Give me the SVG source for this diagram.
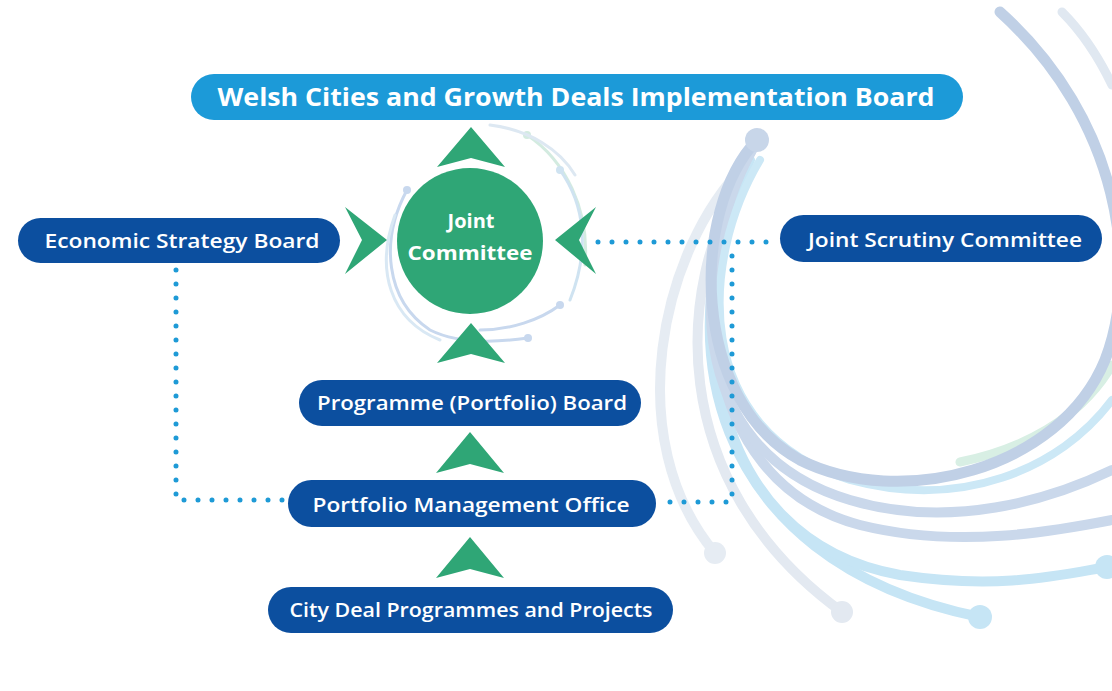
<svg xmlns="http://www.w3.org/2000/svg" width="1112" height="691" viewBox="0 0 1112 691">
<defs>
<style>
.pill{fill:#0c4f9f}
.top{fill:#1c9ad8}
.lbl{font-family:"Open Sans","Liberation Sans",sans-serif;font-weight:600;fill:#ffffff;text-anchor:middle}
.bold{font-weight:700}
.chev{fill:#2fa676}
.dots{fill:none;stroke:#1e9ad6;stroke-width:5;stroke-linecap:round;stroke-dasharray:0 14}
.arc{fill:none;stroke-linecap:round}
.sw{fill:none;stroke-width:3;stroke-linecap:round}
</style>
</defs>
<rect x="0" y="0" width="1112" height="691" fill="#ffffff"/>
<g id="decoration">
<path class="arc" d="M745,165 C660,250 620,440 715,553" stroke="#e6ecf3" stroke-width="10"/>
<circle cx="715" cy="553" r="11" fill="#e6ecf3"/>
<path class="arc" d="M740,185 C680,280 660,480 842,612" stroke="#e3e9f1" stroke-width="10"/>
<circle cx="842" cy="612" r="11" fill="#e3e9f1"/>
<path class="arc" d="M745,175 C670,330 700,560 980,617" stroke="#c6e5f5" stroke-width="10"/>
<circle cx="980" cy="617" r="12" fill="#c6e5f5"/>
<path class="arc" d="M750,160 C680,300 700,540 900,575 C1000,590 1060,575 1107,567" stroke="#c6e5f5" stroke-width="10"/>
<circle cx="1107" cy="567" r="12" fill="#c6e5f5"/>
<path class="arc" d="M752,150 C690,260 690,480 860,525 C960,550 1060,530 1112,520" stroke="#cad8eb" stroke-width="10"/>
<path class="arc" d="M752,150 C690,260 680,450 850,500 C950,530 1050,500 1112,470" stroke="#cad8eb" stroke-width="10"/>
<path class="arc" d="M760,160 C700,260 690,430 850,480 C960,510 1060,470 1112,400" stroke="#cce8f6" stroke-width="8"/>
<path class="arc" d="M1112,365 C1080,420 1020,450 960,462" stroke="#d8efe4" stroke-width="9"/>
<path class="arc" d="M757,140 C690,210 690,400 800,460 C900,510 1060,470 1105,360 C1140,270 1120,120 1000,12" stroke="#c0d0e6" stroke-width="11"/>
<circle cx="757" cy="140" r="12" fill="#c8d6e9"/>
<path class="arc" d="M1062,12 C1085,35 1100,60 1112,85" stroke="#e0e8f1" stroke-width="9"/>
</g>
<g id="swirl">
<path class="sw" d="M527,135 C565,160 590,210 585,265" stroke="#d3ebe0"/>
<circle cx="527" cy="135" r="4" fill="#d3ebe0"/>
<path class="sw" d="M560,170 C585,205 590,250 570,300" stroke="#cfe3f1"/>
<circle cx="560" cy="170" r="4" fill="#cfe3f1"/>
<path class="sw" d="M407,190 C380,240 385,300 430,330 C460,345 500,342 528,338" stroke="#c8d8ee"/>
<circle cx="407" cy="190" r="4" fill="#c8d8ee"/>
<circle cx="528" cy="338" r="4" fill="#c8d8ee"/>
<path class="sw" d="M395,215 C375,270 390,320 440,340" stroke="#d9e8f4"/>
<path class="sw" d="M560,305 C540,320 510,330 480,330" stroke="#c8d8ee"/>
<circle cx="560" cy="305" r="4" fill="#c8d8ee"/>
<path class="sw" d="M490,125 C530,130 560,150 575,175" stroke="#dde8f2"/>
</g>
<g id="connectors">
<path class="dots" d="M176,270 V500 H285"/>
<path class="dots" d="M598,242 H776"/>
<path class="dots" d="M732,256 V502 H662"/>
</g>
<g id="arrows">
<path class="chev" d="M471,127 L505,167 L471,158 L437,167 Z"/>
<path class="chev" d="M387,240 L345,207 L362,240 L345,274 Z"/>
<path class="chev" d="M555,240 L596,207 L579,240 L596,274 Z"/>
<path class="chev" d="M471,323 L505,363 L471,354 L437,363 Z"/>
<path class="chev" d="M470,432 L504,473 L470,464 L436,473 Z"/>
<path class="chev" d="M470,537 L504,578 L470,569 L436,578 Z"/>
</g>
<g id="implementation-board">
<rect class="top" x="191" y="74" width="772" height="46" rx="23"/>
<text class="lbl bold" x="576" y="106" font-size="25" textLength="717" lengthAdjust="spacingAndGlyphs">Welsh Cities and Growth Deals Implementation Board</text>
</g>
<g id="economic-strategy-board">
<rect class="pill" x="18" y="218" width="322" height="45" rx="22.5"/>
<text class="lbl" x="182" y="248" font-size="20" textLength="275" lengthAdjust="spacingAndGlyphs">Economic Strategy Board</text>
</g>
<g id="joint-scrutiny-committee">
<rect class="pill" x="780" y="215" width="322" height="47" rx="23.5"/>
<text class="lbl" x="945" y="247" font-size="20" textLength="274" lengthAdjust="spacingAndGlyphs">Joint Scrutiny Committee</text>
</g>
<g id="joint-committee">
<circle cx="470" cy="241" r="73" fill="#2fa676"/>
<text class="lbl bold" x="471" y="228" font-size="20">Joint</text>
<text class="lbl bold" x="470" y="260" font-size="20" textLength="125" lengthAdjust="spacingAndGlyphs">Committee</text>
</g>
<g id="programme-board">
<rect class="pill" x="299" y="380" width="342" height="46" rx="23"/>
<text class="lbl" x="472" y="410" font-size="20" textLength="310" lengthAdjust="spacingAndGlyphs">Programme (Portfolio) Board</text>
</g>
<g id="portfolio-management-office">
<rect class="pill" x="288" y="480" width="368" height="47" rx="23.5"/>
<text class="lbl" x="471" y="512" font-size="20" textLength="317" lengthAdjust="spacingAndGlyphs">Portfolio Management Office</text>
</g>
<g id="city-deal-programmes">
<rect class="pill" x="268" y="587" width="405" height="46" rx="23"/>
<text class="lbl" x="471" y="617" font-size="20" textLength="363" lengthAdjust="spacingAndGlyphs">City Deal Programmes and Projects</text>
</g>
</svg>
